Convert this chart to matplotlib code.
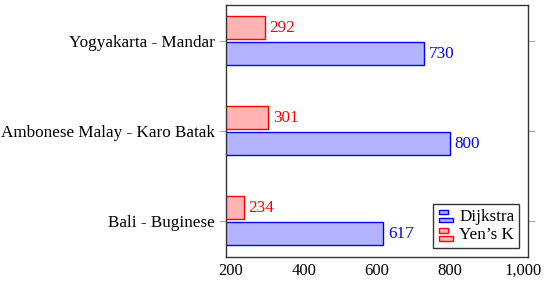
import numpy as np
import matplotlib.pyplot as plt
from matplotlib.legend_handler import HandlerBase
from matplotlib.patches import Rectangle

plt.rcParams['font.family'] = ['Liberation Serif', 'DejaVu Serif']

# data, bottom to top
pairs = ['Bali - Buginese', 'Ambonese Malay - Karo Batak', 'Yogyakarta - Mandar']
dijkstra = [617, 800, 730]
yens_k = [234, 301, 292]


class BarIcon(HandlerBase):
    # pgfplots-style legend icon: two small stacked bars
    def create_artists(self, legend, orig, xd, yd, w, h, fontsize, trans):
        fc, ec = orig.get_facecolor(), orig.get_edgecolor()
        top = Rectangle((xd, yd + h * 0.6), w * 0.65, h * 0.4, fc=fc, ec=ec, lw=1, transform=trans)
        bot = Rectangle((xd, yd - h * 0.1), w, h * 0.4, fc=fc, ec=ec, lw=1, transform=trans)
        return [top, bot]


fig = plt.figure(figsize=(5.5, 2.81), dpi=100)
ax = fig.add_axes([226 / 550, 1 - 257 / 281, (528 - 226) / 550, (257 - 5) / 281])

y = np.arange(len(pairs))
h = 0.26
b1 = ax.barh(y - 0.14, dijkstra, height=h, color='#b3b3ff', edgecolor='blue', lw=1, label='Dijkstra')
b2 = ax.barh(y + 0.15, yens_k, height=h, color='#ffb3b3', edgecolor='red', lw=1, label="Yen’s K")

for yi, v in zip(y, dijkstra):
    ax.annotate(str(v), (v, yi - 0.14), xytext=(3.5, 0), textcoords='offset points',
                va='center', ha='left', color='blue', fontsize=12.3)
for yi, v in zip(y, yens_k):
    ax.annotate(str(v), (v, yi + 0.15), xytext=(3.5, 0), textcoords='offset points',
                va='center', ha='left', color='red', fontsize=12.3)

ax.set_xlim(186, 1014)
ax.set_ylim(-0.4, 2.4)
ax.set_xticks([200, 400, 600, 800, 1000])
ax.set_xticklabels(['200', '400', '600', '800', '1,000'])
ax.set_yticks(y)
ax.set_yticklabels(pairs)
ax.tick_params(axis='x', length=0, labelsize=12, pad=4)
ax.tick_params(axis='y', length=5, color='#aaaaaa', labelsize=12.3, right=True, pad=3)
for s in ax.spines.values():
    s.set_color('#333333')
    s.set_linewidth(1)

ax.legend(handles=[b1.patches[0], b2.patches[0]], labels=['Dijkstra', "Yen’s K"],
          loc='lower right', handler_map={Rectangle: BarIcon()},
          fontsize=12.3, fancybox=False, edgecolor='#333333', framealpha=1,
          handlelength=0.85, handleheight=0.65, handletextpad=0.35, borderpad=0.3,
          labelspacing=0.15, borderaxespad=0.5)

fig.savefig('out.png', dpi=100)
